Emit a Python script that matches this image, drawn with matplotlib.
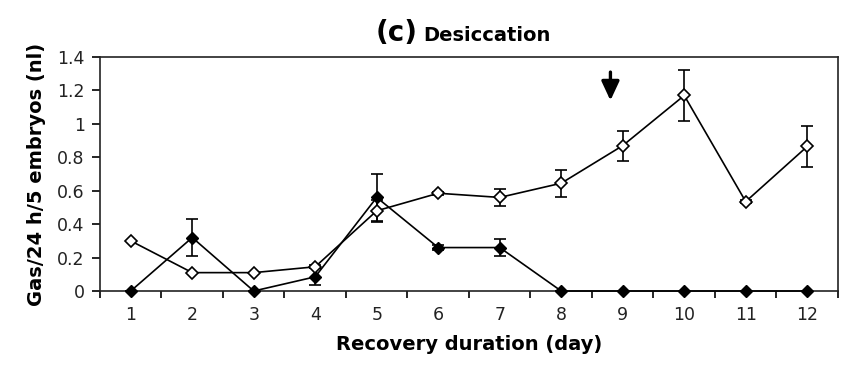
import matplotlib
matplotlib.use("Agg")
import matplotlib.pyplot as plt
import numpy as np

plt.rcParams['font.family'] = ['DejaVu Sans']

days = [1, 2, 3, 4, 5, 6, 7, 8, 9, 10, 11, 12]
tick_labels = [str(d) for d in days]

# open diamonds
open_mean = [0.30, 0.11, 0.11, 0.145, 0.48, 0.585, 0.56, 0.645, 0.87, 1.17, 0.535, 0.865]
open_err = [0.0, 0.0, 0.0, 0.01, 0.065, 0.01, 0.05, 0.08, 0.09, 0.15, 0.01, 0.12]

# filled diamonds
filled_mean = [0.0, 0.32, 0.0, 0.085, 0.56, 0.26, 0.26, 0.0, 0.0, 0.0, 0.0, 0.0]
filled_err = [0.0, 0.11, 0.0, 0.05, 0.14, 0.015, 0.05, 0.0, 0.0, 0.0, 0.0, 0.0]

arrow_day = 8.8

fig = plt.figure(figsize=(8.41, 3.68), dpi=100)
ax = fig.add_axes([0.1189, 0.2092, 0.8775, 0.6358])

filled = ax.errorbar(days, filled_mean, yerr=filled_err, color='black', lw=1.2,
                     marker='D', markersize=6, markerfacecolor='black',
                     markeredgecolor='black', capsize=4, elinewidth=1.2,
                     capthick=1.2, zorder=3)
opened = ax.errorbar(days, open_mean, yerr=open_err, color='black', lw=1.2,
                     marker='D', markersize=6.5, markerfacecolor='white',
                     markeredgecolor='black', markeredgewidth=1.2, capsize=4,
                     elinewidth=1.2, capthick=1.2, zorder=4)
# keep markers sitting on the zero line fully visible
for container in (filled, opened):
    for artist in container.get_children():
        artist.set_clip_on(False)

ax.annotate('', xy=(arrow_day, 1.14), xytext=(arrow_day, 1.31),
            arrowprops=dict(arrowstyle='-|>,head_width=0.27,head_length=0.58',
                            mutation_scale=20, shrinkA=0, shrinkB=0,
                            color='black', lw=2.4))

ax.set_xlim(0.5, 12.5)
ax.set_ylim(0, 1.4)
ax.set_xticks(days)
ax.set_xticklabels(tick_labels)
ax.set_xticks(np.arange(0.5, 13.0, 1.0), minor=True)
ax.tick_params(axis='x', which='major', length=0, pad=11, labelsize=12.5,
               labelcolor='#222222')
ax.tick_params(axis='x', which='minor', length=5, width=1.2, direction='out')
ax.set_yticks(np.arange(0, 1.41, 0.2))
ax.set_yticklabels(['0', '0.2', '0.4', '0.6', '0.8', '1', '1.2', '1.4'])
ax.tick_params(axis='y', length=6, width=1.2, direction='out', pad=5,
               labelsize=12.5, labelcolor='#222222')

for s in ax.spines.values():
    s.set_linewidth(1.2)
    s.set_color('#222222')

ax.set_ylabel('Gas/24 h/5 embryos (nl)', fontsize=14, fontweight='bold', labelpad=8)
ax.set_xlabel('Recovery duration (day)', fontsize=14, fontweight='bold', labelpad=8)

fig.text(0.496, 0.889, '(c)', fontsize=20, fontweight='bold', ha='right', va='baseline')
fig.text(0.503, 0.889, 'Desiccation', fontsize=14, fontweight='bold', ha='left', va='baseline')

fig.savefig('out.png', dpi=100)
